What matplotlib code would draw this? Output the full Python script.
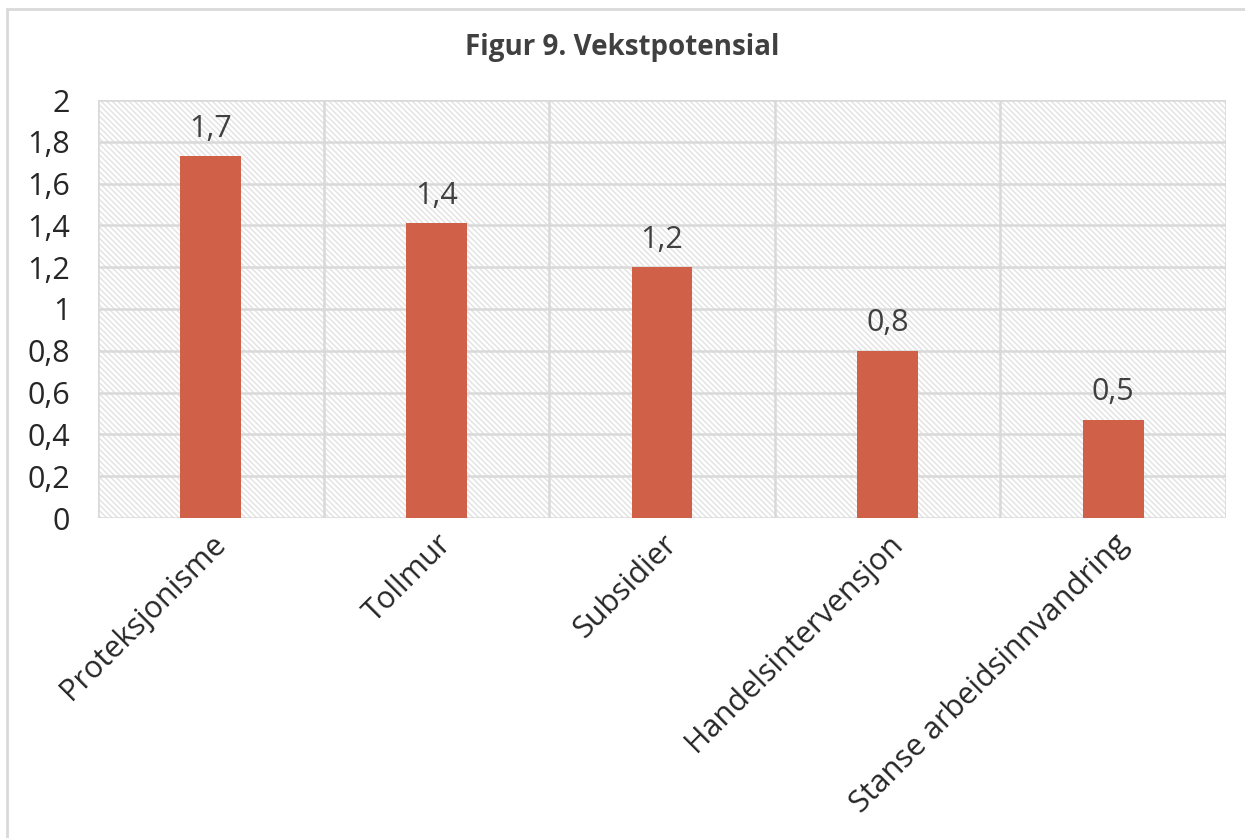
import matplotlib.pyplot as plt
from matplotlib.patches import Rectangle

categories = ['Proteksjonisme', 'Tollmur', 'Subsidier', 'Handelsintervensjon',
              'Stanse arbeidsinnvandring']
values = [1.73, 1.41, 1.20, 0.80, 0.47]
labels = ['1,7', '1,4', '1,2', '0,8', '0,5']
yticks = [0, 0.2, 0.4, 0.6, 0.8, 1, 1.2, 1.4, 1.6, 1.8, 2]
ytick_labels = ['0', '0,2', '0,4', '0,6', '0,8', '1', '1,2', '1,4', '1,6', '1,8', '2']

plt.rcParams['font.family'] = ['Open Sans', 'DejaVu Sans']
plt.rcParams['hatch.linewidth'] = 1.0

fig = plt.figure(figsize=(12.45, 8.38), dpi=100)
W, H = 1245, 838
ax = fig.add_axes([98 / W, 1 - 518 / H, (1226 - 98) / W, (518 - 100) / H])

# outer chart border
fig.patches.append(Rectangle((7 / W, -0.01), 1.0, 1 - 9 / H + 0.01,
                             transform=fig.transFigure, fill=False,
                             edgecolor='#d9d9d9', linewidth=2))

# hatched plot background
ax.add_patch(Rectangle((0, 0), 1, 1, transform=ax.transAxes, facecolor='white',
                       edgecolor='#e2e2e2', hatch='\\\\\\\\\\\\', linewidth=0,
                       zorder=0))

x = range(len(categories))
ax.bar(x, values, width=0.27, color='#D06048', zorder=3)

for i, v in enumerate(values):
    ax.text(i, v + 0.06, labels[i], ha='center', va='bottom',
            fontsize=22, color='#404040', zorder=4)

ax.set_xlim(-0.5, len(categories) - 0.5)
ax.set_ylim(0, 2)
ax.set_yticks(yticks)
ax.set_yticklabels(ytick_labels, fontsize=22, color='#262626')
ax.set_xticks(list(x))
ax.set_xticklabels(categories, rotation=45, ha='right', rotation_mode='anchor',
                   fontsize=22, color='#262626')
ax.tick_params(length=0, pad=8)
ax.tick_params(axis='y', pad=20)

for yv in yticks:
    ax.axhline(yv, color='#d9d9d9', linewidth=1.8, zorder=1)
for xv in [i + 0.5 for i in range(-1, len(categories))]:
    ax.axvline(xv, color='#d9d9d9', linewidth=1.8, zorder=1)
for s in ax.spines.values():
    s.set_visible(False)

fig.text(0.5, 1 - 47 / H, 'Figur 9. Vekstpotensial', ha='center', va='center',
         fontsize=20, fontweight='bold', color='#404040')

fig.savefig('out.png', dpi=100)
